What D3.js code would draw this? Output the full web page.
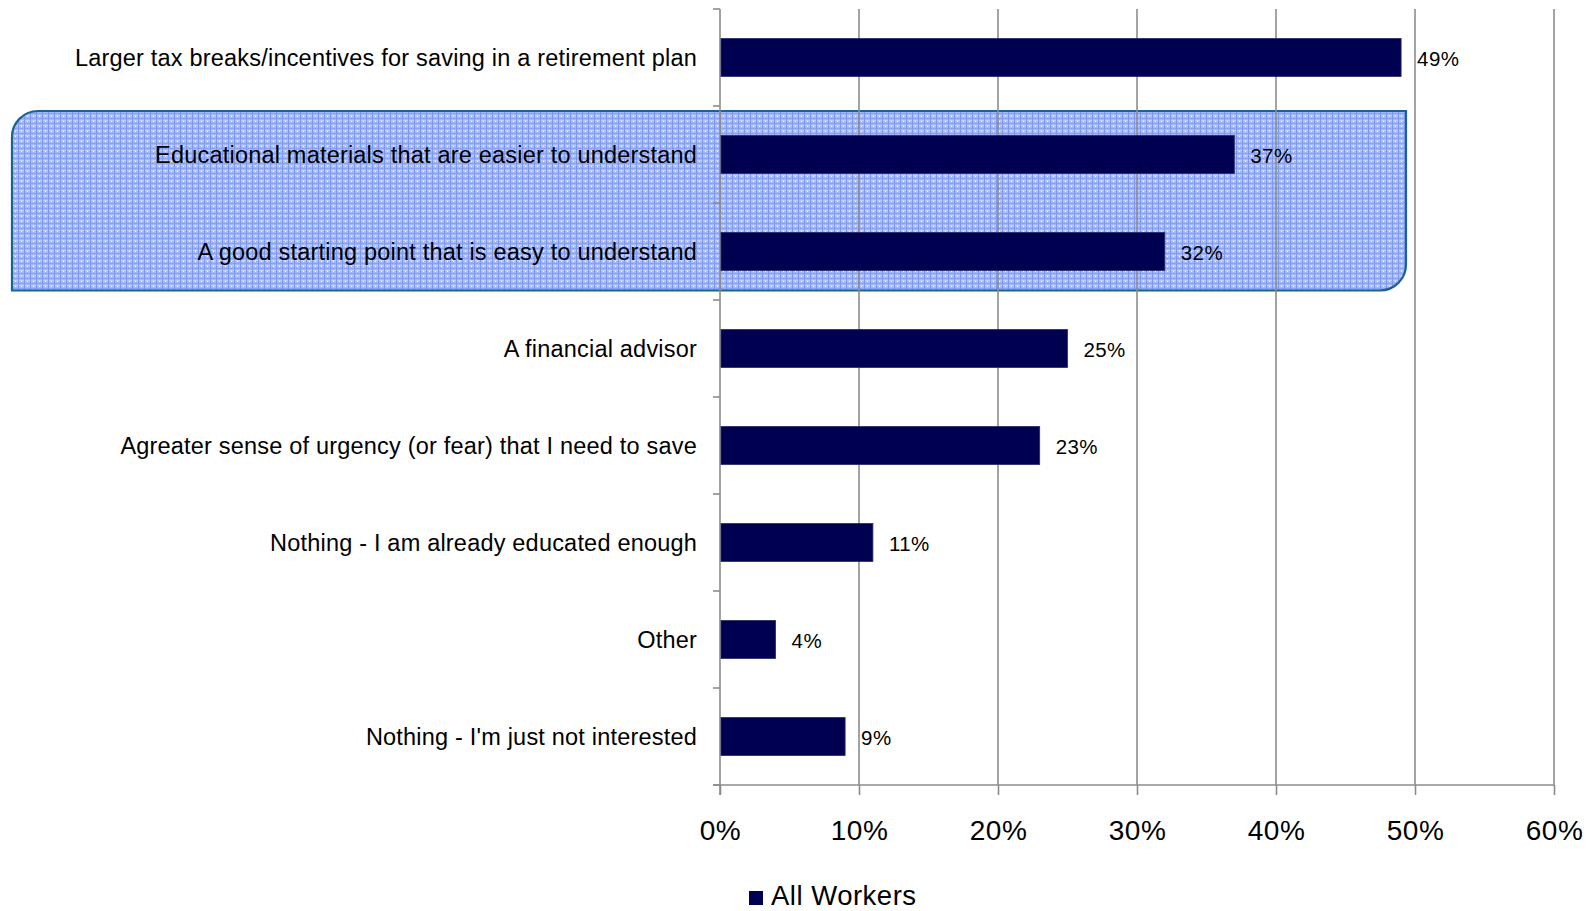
<!DOCTYPE html>
<html>
<head>
<meta charset="utf-8">
<script src="https://cdn.jsdelivr.net/npm/d3@7"></script>
<style>
  html, body { margin: 0; padding: 0; background: #fff; }
  svg { display: block; font-family: "Liberation Sans", Arial, sans-serif; }
</style>
</head>
<body>
<svg id="chart" width="1590" height="911"></svg>
<script>
// Survey answers (shares of all workers)
const categories = [
  "Larger tax breaks/incentives for saving in a retirement plan",
  "Educational materials that are easier to understand",
  "A good starting point that is easy to understand",
  "A financial advisor",
  "Agreater sense of urgency (or fear) that I need to save",
  "Nothing - I am already educated enough",
  "Other",
  "Nothing - I'm just not interested"
];
const values = [0.49, 0.37, 0.32, 0.25, 0.23, 0.11, 0.04, 0.09];
const valueLabels = ["49%", "37%", "32%", "25%", "23%", "11%", "4%", "9%"];
const tickValues = [0, 0.1, 0.2, 0.3, 0.4, 0.5, 0.6];
const tickLabels = ["0%", "10%", "20%", "30%", "40%", "50%", "60%"];
const highlighted = [
  "Educational materials that are easier to understand",
  "A good starting point that is easy to understand"
];
const seriesName = "All Workers";

const svg = d3.select("#chart");
const plot = { left: 720, right: 1554, top: 9, bottom: 785 };
const barColor = "#000050";
const gridColor = "#8c8c8c";

const x = d3.scaleLinear().domain([0, 0.6]).range([plot.left, plot.right]);
const y = d3.scaleBand().domain(categories)
  .range([plot.top, plot.bottom])
  .paddingInner(0.608).paddingOuter(0.304);

// Hatched fill for the highlight callout
const defs = svg.append("defs");
const pat = defs.append("pattern")
  .attr("id", "hatch").attr("patternUnits", "userSpaceOnUse")
  .attr("width", 6).attr("height", 5);
pat.append("rect").attr("width", 6).attr("height", 5).attr("fill", "#a3b6f8");
pat.append("rect").attr("x", 0).attr("y", 0).attr("width", 6).attr("height", 1).attr("fill", "#c2d0fb");
pat.append("rect").attr("x", 0).attr("y", 3).attr("width", 6).attr("height", 1).attr("fill", "#8aa3f3");
pat.append("rect").attr("x", 0).attr("y", 0).attr("width", 1).attr("height", 5).attr("fill", "#7d98ef");
pat.append("rect").attr("x", 3).attr("y", 1).attr("width", 1).attr("height", 1).attr("fill", "#ffffff");

// Callout box with rounded top-left and bottom-right corners
const bx0 = 12, bx1 = 1406;
const by0 = y(highlighted[0]) - 24.5;
const by1 = y(highlighted[highlighted.length - 1]) + y.bandwidth() + 20;
const r = 26;
const p = d3.path();
p.moveTo(bx0, by0 + r);
p.arcTo(bx0, by0, bx0 + r, by0, r);
p.lineTo(bx1, by0);
p.lineTo(bx1, by1 - r);
p.arcTo(bx1, by1, bx1 - r, by1, r);
p.lineTo(bx0, by1);
p.closePath();
svg.append("path").attr("d", p.toString())
  .attr("fill", "url(#hatch)")
  .attr("stroke", "#1b6393").attr("stroke-width", 2.2);

// Vertical gridlines
svg.append("g").selectAll("line")
  .data(tickValues.slice(1))
  .join("line")
  .attr("x1", d => x(d)).attr("x2", d => x(d))
  .attr("y1", plot.top).attr("y2", plot.bottom)
  .attr("stroke", gridColor).attr("stroke-width", 1.6);

// X axis (ticks below, labels further down)
const xAxis = svg.append("g").attr("transform", `translate(0,${plot.bottom})`)
  .call(d3.axisBottom(x).tickValues(tickValues)
    .tickFormat((d, i) => tickLabels[i]).tickSize(10).tickPadding(25));
xAxis.select(".domain").remove();
xAxis.selectAll(".tick line").attr("stroke", gridColor).attr("stroke-width", 1.6);
xAxis.selectAll(".tick text")
  .attr("font-size", 28).attr("letter-spacing", 0.5).attr("fill", "#000")
  .attr("font-family", "'Liberation Sans', Arial, sans-serif");
svg.append("line")
  .attr("x1", plot.left - 7).attr("x2", plot.right)
  .attr("y1", plot.bottom).attr("y2", plot.bottom)
  .attr("stroke", gridColor).attr("stroke-width", 1.6);

// Y axis: ticks at category boundaries
const step = y.step();
const boundaries = d3.range(categories.length + 1).map(i => plot.top + i * step);
svg.append("line")
  .attr("x1", plot.left).attr("x2", plot.left)
  .attr("y1", plot.top).attr("y2", plot.bottom + 10)
  .attr("stroke", gridColor).attr("stroke-width", 1.6);
svg.append("g").selectAll("line")
  .data(boundaries)
  .join("line")
  .attr("x1", plot.left - 7).attr("x2", plot.left)
  .attr("y1", d => d).attr("y2", d => d)
  .attr("stroke", gridColor).attr("stroke-width", 1.6);

// Bars
svg.append("g").selectAll("rect")
  .data(categories)
  .join("rect")
  .attr("x", x(0) + 1)
  .attr("y", d => y(d))
  .attr("width", (d, i) => x(values[i]) - x(0) - 1)
  .attr("height", y.bandwidth())
  .attr("fill", barColor)
  .attr("stroke", "#2a2a6e").attr("stroke-width", 0.8);

// Category labels
svg.append("g").selectAll("text")
  .data(categories)
  .join("text")
  .attr("x", 697)
  .attr("y", d => y(d) + y.bandwidth() / 2)
  .attr("dy", "0.36em")
  .attr("text-anchor", "end")
  .attr("font-size", 23.5)
  .attr("letter-spacing", 0.2)
  .attr("fill", "#000")
  .text(d => d);

// Value labels
svg.append("g").selectAll("text")
  .data(categories)
  .join("text")
  .attr("x", (d, i) => x(values[i]) + 16)
  .attr("y", d => y(d) + y.bandwidth() / 2)
  .attr("dy", "0.4em")
  .attr("font-size", 20.5)
  .attr("letter-spacing", 0.4)
  .attr("fill", "#000")
  .text((d, i) => valueLabels[i]);

// Legend
const legend = svg.append("g").attr("transform", "translate(749,891)");
legend.append("rect").attr("width", 14).attr("height", 14).attr("fill", barColor);
legend.append("text").attr("x", 22).attr("y", 14)
  .attr("font-size", 27.5).attr("letter-spacing", 0.5)
  .attr("fill", "#000").text(seriesName);
</script>
</body>
</html>
